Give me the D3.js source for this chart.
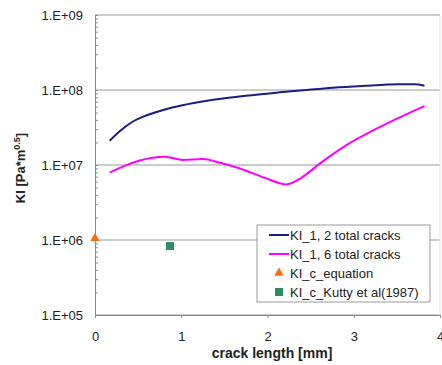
<!DOCTYPE html>
<html>
<head>
<meta charset="utf-8">
<script src="https://cdn.jsdelivr.net/npm/d3@7"></script>
<style>
  body { margin: 0; background: #fff; }
  svg { font-family: "Liberation Sans", Arial, sans-serif; }
</style>
</head>
<body>
<div id="chart"></div>
<script>
const MARGIN = { LEFT: 95, RIGHT: 2, TOP: 15, BOTTOM: 50 };
const WIDTH = 442 - MARGIN.LEFT - MARGIN.RIGHT;
const HEIGHT = 365 - MARGIN.TOP - MARGIN.BOTTOM;

// crack length [mm] and KI [Pa*m^0.5]
const twoCracksX = [0.17, 0.3, 0.44, 0.6, 0.79, 1.0, 1.37, 1.75, 2.14, 2.45, 2.76, 3.1, 3.53, 3.7, 3.82];
const twoCracksY = [2.1e7, 2.9e7, 3.8e7, 4.6e7, 5.4e7, 6.2e7, 7.4e7, 8.4e7, 9.3e7, 1.0e8, 1.07e8, 1.13e8, 1.19e8, 1.19e8, 1.14e8];

const sixCracksX = [0.17, 0.35, 0.52, 0.81, 1.02, 1.25, 1.45, 1.68, 1.99, 2.22, 2.38, 2.61, 2.92, 3.3, 3.82];
const sixCracksY = [7.9e6, 9.8e6, 1.15e7, 1.29e7, 1.17e7, 1.2e7, 1.07e7, 9.0e6, 6.6e6, 5.5e6, 6.6e6, 1.05e7, 1.85e7, 3.2e7, 6.1e7];

const equationX = [0];
const equationY = [1.05e6];

const kuttyX = [0.87];
const kuttyY = [8.3e5];

const xTicks = [0, 1, 2, 3, 4];
const yTicks = [1e5, 1e6, 1e7, 1e8, 1e9];
const yTickLabels = ["1.E+05", "1.E+06", "1.E+07", "1.E+08", "1.E+09"];

const legendLabels = ["KI_1, 2 total cracks", "KI_1, 6 total cracks", "KI_c_equation", "KI_c_Kutty et al(1987)"];

const svg = d3.select("#chart")
  .append("svg")
  .attr("width", 442)
  .attr("height", 365)
  .append("g")
  .attr("transform", `translate(${MARGIN.LEFT}, ${MARGIN.TOP})`);

const xScale = d3.scaleLinear().domain([0, 4]).range([0, 345]);
const yScale = d3.scaleLog().domain([1e5, 1e9]).range([HEIGHT, 0]);

// horizontal gridlines
svg.selectAll(".grid")
  .data(yTicks)
  .enter().append("line")
  .attr("x1", 0)
  .attr("x2", xScale(4))
  .attr("y1", d => yScale(d))
  .attr("y2", d => yScale(d))
  .attr("stroke", "#9a9a9a")
  .attr("stroke-width", 1);

// faint right border
svg.append("line")
  .attr("x1", xScale(4)).attr("x2", xScale(4))
  .attr("y1", 0).attr("y2", HEIGHT)
  .attr("stroke", "#e4e4e4");

// y axis with minor log ticks
const minorTicks = yScale.ticks(40);
const yAxis = d3.axisLeft(yScale)
  .tickValues(minorTicks)
  .tickSize(-3)
  .tickFormat("");
const gy = svg.append("g").call(yAxis);
gy.select(".domain").attr("stroke", "#8a8a8a");
gy.selectAll(".tick line").attr("stroke", "#8a8a8a");

svg.selectAll(".ylab")
  .data(yTicks)
  .enter().append("text")
  .attr("x", -12)
  .attr("y", d => yScale(d))
  .attr("dy", "0.35em")
  .attr("text-anchor", "end")
  .attr("font-size", "13px")
  .attr("fill", "#222")
  .text((d, i) => yTickLabels[i]);

// x axis
const xAxis = d3.axisBottom(xScale)
  .tickValues(xTicks)
  .tickSize(3)
  .tickFormat(d => d);
const gx = svg.append("g")
  .attr("transform", `translate(0, ${HEIGHT})`)
  .call(xAxis);
gx.select(".domain").attr("stroke", "#8a8a8a");
gx.selectAll(".tick line").attr("stroke", "#8a8a8a");
gx.selectAll("text")
  .attr("font-size", "13px")
  .attr("font-family", "Liberation Sans, Arial, sans-serif")
  .attr("fill", "#222")
  .attr("y", 17);

svg.append("text")
  .attr("x", 177)
  .attr("y", HEIGHT + 43)
  .attr("text-anchor", "middle")
  .attr("font-size", "14px")
  .attr("font-weight", "bold")
  .attr("fill", "#222")
  .text("crack length [mm]");

const yLabel = svg.append("text")
  .attr("transform", `translate(-70, 153) rotate(-90)`)
  .attr("text-anchor", "middle")
  .attr("font-size", "13px")
  .attr("font-weight", "bold")
  .attr("fill", "#222");
yLabel.append("tspan").text("KI [Pa*m");
yLabel.append("tspan").attr("font-size", "9px").attr("dy", "-5").text("0.5");
yLabel.append("tspan").attr("dy", "5").text("]");

// lines
const line = d3.line()
  .x(d => xScale(d[0]))
  .y(d => yScale(d[1]))
  .curve(d3.curveMonotoneX);

svg.append("path")
  .datum(d3.zip(twoCracksX, twoCracksY))
  .attr("d", line)
  .attr("fill", "none")
  .attr("stroke", "#1c1c80")
  .attr("stroke-width", 2);

svg.append("path")
  .datum(d3.zip(sixCracksX, sixCracksY))
  .attr("d", line)
  .attr("fill", "none")
  .attr("stroke", "#ff00ff")
  .attr("stroke-width", 2);

// markers
const tri = d3.symbol().type(d3.symbolTriangle).size(38);
svg.selectAll(".eq")
  .data(d3.zip(equationX, equationY))
  .enter().append("path")
  .attr("d", tri)
  .attr("transform", d => `translate(${xScale(d[0])}, ${yScale(d[1])})`)
  .attr("fill", "#ff6a13");

svg.selectAll(".kutty")
  .data(d3.zip(kuttyX, kuttyY))
  .enter().append("rect")
  .attr("x", d => xScale(d[0]) - 4)
  .attr("y", d => yScale(d[1]) - 4)
  .attr("width", 8)
  .attr("height", 8)
  .attr("fill", "#2e8b63");

// legend
const legend = svg.append("g").attr("transform", `translate(${257 - MARGIN.LEFT}, ${225 - MARGIN.TOP})`);
legend.append("rect")
  .attr("width", 173)
  .attr("height", 77)
  .attr("fill", "#fff")
  .attr("stroke", "#9a9a9a");

legendLabels.forEach((lab, i) => {
  const y = 10 + i * 19;
  if (i < 2) {
    legend.append("line")
      .attr("x1", 12).attr("x2", 32)
      .attr("y1", y).attr("y2", y)
      .attr("stroke", i === 0 ? "#1c1c80" : "#ff00ff")
      .attr("stroke-width", 2);
  } else if (i === 2) {
    legend.append("path")
      .attr("d", tri)
      .attr("transform", `translate(22, ${y})`)
      .attr("fill", "#ff6a13");
  } else {
    legend.append("rect")
      .attr("x", 18).attr("y", y - 4)
      .attr("width", 8).attr("height", 8)
      .attr("fill", "#2e8b63");
  }
  legend.append("text")
    .attr("x", 33)
    .attr("y", y)
    .attr("dy", "0.35em")
    .attr("font-size", "13px")
    .attr("fill", "#222")
    .text(lab);
});
</script>
</body>
</html>
